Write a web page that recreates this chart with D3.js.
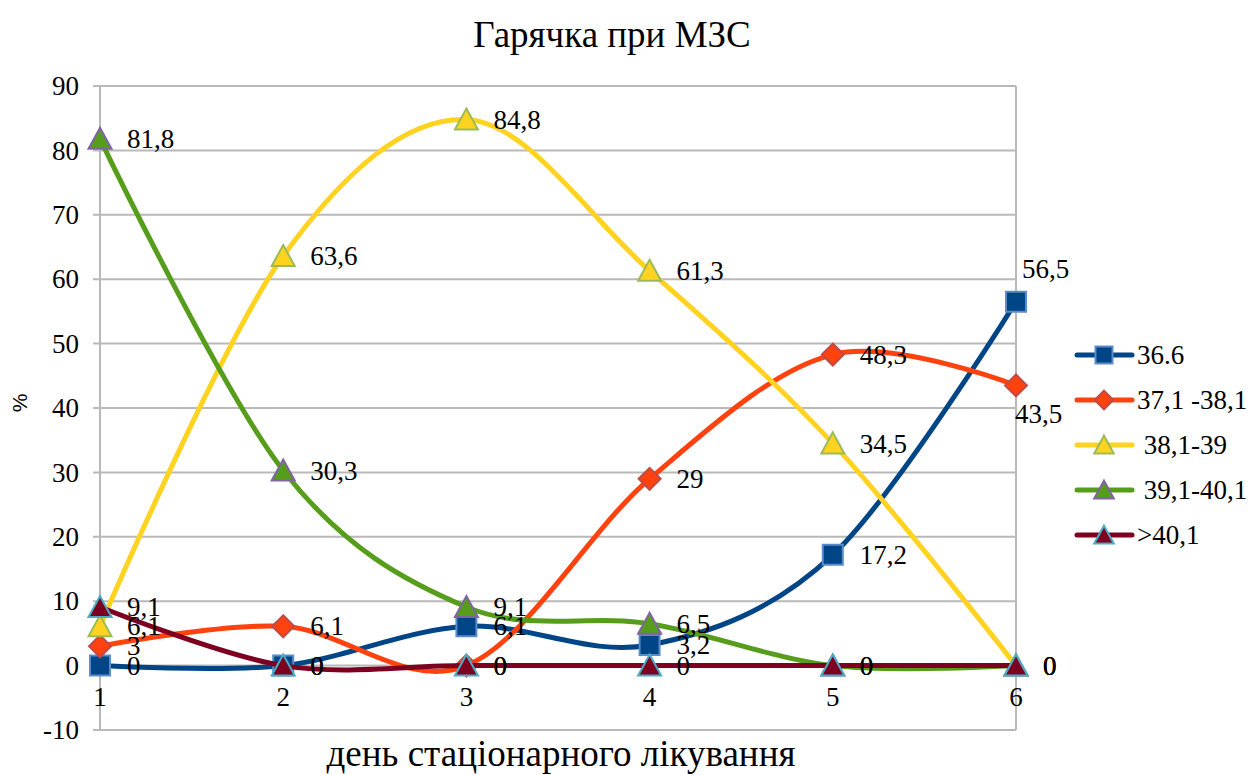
<!DOCTYPE html>
<html>
<head>
<meta charset="utf-8">
<script src="https://cdn.jsdelivr.net/npm/d3@7"></script>
<style>
  body { margin: 0; background: #fff; }
  svg { display: block; }
  text { font-family: "Liberation Serif", "Times New Roman", serif; fill: #000; }
</style>
</head>
<body>
<div id="chart"></div>
<script>
// Days of inpatient treatment (x categories)
const days = [1, 2, 3, 4, 5, 6];
const yTicks = [-10, 0, 10, 20, 30, 40, 50, 60, 70, 80, 90];

// Share of patients (%) per temperature group
const seriesNames = ['36.6', '37,1 -38,1', ' 38,1-39', ' 39,1-40,1', '>40,1'];
const temp366 = [0, 0, 6.1, 3.2, 17.2, 56.5];
const temp371 = [3, 6.1, 0, 29, 48.3, 43.5];
const temp381 = [6.1, 63.6, 84.8, 61.3, 34.5, 0];
const temp391 = [81.8, 30.3, 9.1, 6.5, 0, 0];
const temp401 = [9.1, 0, 0, 0, 0, 0];

const seriesValues = [temp366, temp371, temp381, temp391, temp401];

// style per series: line colour, marker shape, marker fill, marker outline
const styles = [
  { color: '#004586', shape: 'square', fill: '#004586', stroke: '#5b8bc9' },
  { color: '#ff420e', shape: 'diamond', fill: '#ff420e', stroke: '#be4b48' },
  { color: '#ffd320', shape: 'triangle', fill: '#ffd320', stroke: '#9bbb59' },
  { color: '#579d1c', shape: 'triangle', fill: '#579d1c', stroke: '#8064a2' },
  { color: '#7e0021', shape: 'triangle', fill: '#7e0021', stroke: '#4bacc6' },
];

class FeverChart {
  constructor(selector) {
    this.selection = d3.select(selector);
    this.width = 1248;
    this.height = 775;
    this.plot = { left: 100, right: 1016, top: 86, bottom: 730 };
  }

  markerPath(shape, s) {
    // s = scale factor, 1 for the plot, smaller for the legend
    if (shape === 'square') {
      const h = 10 * s;
      return `M${-h},${-h}H${h}V${h}H${-h}Z`;
    }
    if (shape === 'diamond') {
      const h = 11 * s;
      return `M0,${-h}L${h},0L0,${h}L${-h},0Z`;
    }
    const w = 11.5 * s, up = 11 * s, dn = 10 * s;
    return `M0,${-up}L${w},${dn}L${-w},${dn}Z`;
  }

  drawBase() {
    const p = this.plot;
    this.svg = this.selection.append('svg')
      .attr('width', this.width)
      .attr('height', this.height);

    this.x = d3.scaleLinear().domain([1, 6]).range([p.left, p.right]);
    this.y = d3.scaleLinear().domain([-10, 90]).range([p.bottom, p.top]);
  }

  drawAxes() {
    const p = this.plot;
    const svg = this.svg;
    const grid = svg.append('g').attr('class', 'grid');

    grid.selectAll('line.h')
      .data(yTicks)
      .join('line')
      .attr('class', 'h')
      .attr('x1', p.left - 7)
      .attr('x2', p.right)
      .attr('y1', (d) => this.y(d))
      .attr('y2', (d) => this.y(d))
      .attr('stroke', '#b9b9b9')
      .attr('stroke-width', 2);

    // left axis and right border
    [p.left, p.right].forEach((xx) => {
      grid.append('line')
        .attr('x1', xx).attr('x2', xx)
        .attr('y1', p.top).attr('y2', p.bottom)
        .attr('stroke', '#b9b9b9')
        .attr('stroke-width', 2);
    });

    svg.append('g').selectAll('text')
      .data(yTicks)
      .join('text')
      .attr('x', 79)
      .attr('y', (d) => this.y(d))
      .attr('dy', '0.34em')
      .attr('text-anchor', 'end')
      .style('font-size', '27px')
      .text((d) => d);

    svg.append('g').selectAll('text')
      .data(days)
      .join('text')
      .attr('x', (d) => this.x(d))
      .attr('y', 706)
      .attr('text-anchor', 'middle')
      .style('font-size', '27px')
      .text((d) => d);

    svg.append('text')
      .attr('x', 612)
      .attr('y', 47)
      .attr('text-anchor', 'middle')
      .style('font-size', '37px')
      .text('Гарячка при МЗС');

    svg.append('text')
      .attr('x', 561)
      .attr('y', 766)
      .attr('text-anchor', 'middle')
      .style('font-size', '37px')
      .text('день стаціонарного лікування');

    svg.append('text')
      .attr('transform', 'translate(27,403) rotate(-90)')
      .attr('text-anchor', 'middle')
      .style('font-family', '"Liberation Sans", Arial, sans-serif')
      .style('font-size', '21px')
      .text('%');
  }

  drawSeries() {
    const line = d3.line()
      .x((d, i) => this.x(days[i]))
      .y((d) => this.y(d))
      .curve(d3.curveCardinal.tension(0));

    seriesValues.forEach((vals, si) => {
      const st = styles[si];
      const g = this.svg.append('g').attr('class', `series s-${si}`);
      g.append('path')
        .attr('d', line(vals))
        .attr('fill', 'none')
        .attr('stroke', st.color)
        .attr('stroke-width', 5)
        .attr('stroke-linecap', 'round')
        .attr('stroke-linejoin', 'round');

      g.selectAll('path.marker')
        .data(vals)
        .join('path')
        .attr('class', 'marker')
        .attr('transform', (d, i) => `translate(${this.x(days[i])},${this.y(d)})`)
        .attr('d', this.markerPath(st.shape, 1))
        .attr('fill', st.fill)
        .attr('stroke', st.stroke)
        .attr('stroke-width', 2);
    });
  }

  drawLabels() {
    // labels at the right of each marker, except two at the last day
    const labelShift = { '0-5': [6, -33], '1-5': [-1, 28] };
    const labels = this.svg.append('g').attr('class', 'labels');
    seriesValues.forEach((vals, si) => {
      labels.selectAll(`text.l-${si}`)
        .data(vals)
        .join('text')
        .attr('class', `l-${si}`)
        .attr('x', (d, i) => this.x(days[i]) + (labelShift[`${si}-${i}`] || [27, 0])[0])
        .attr('y', (d, i) => this.y(d) + (labelShift[`${si}-${i}`] || [27, 0])[1])
        .attr('dy', '0.34em')
        .style('font-size', '27px')
        .text((d) => String(d).replace('.', ','));
    });
  }

  drawLegend() {
    const legend = this.svg.append('g').attr('class', 'legend');
    const rows = legend.selectAll('g')
      .data(seriesNames)
      .join('g')
      .attr('transform', (d, i) => `translate(1077,${355 + i * 45})`);

    rows.append('line')
      .attr('x1', 0).attr('x2', 55)
      .attr('stroke', (d, i) => styles[i].color)
      .attr('stroke-width', 5)
      .attr('stroke-linecap', 'round');

    rows.append('path')
      .attr('transform', 'translate(27,0)')
      .attr('d', (d, i) => this.markerPath(styles[i].shape, 0.85))
      .attr('fill', (d, i) => styles[i].fill)
      .attr('stroke', (d, i) => styles[i].stroke)
      .attr('stroke-width', 2);

    rows.append('text')
      .attr('x', 60)
      .attr('dy', '0.34em')
      .style('font-size', '27px')
      .style('white-space', 'pre')
      .text((d) => d);
  }

  draw() {
    this.drawBase();
    this.drawAxes();
    this.drawSeries();
    this.drawLabels();
    this.drawLegend();
    return this;
  }
}

new FeverChart('#chart').draw();
</script>
</body>
</html>
